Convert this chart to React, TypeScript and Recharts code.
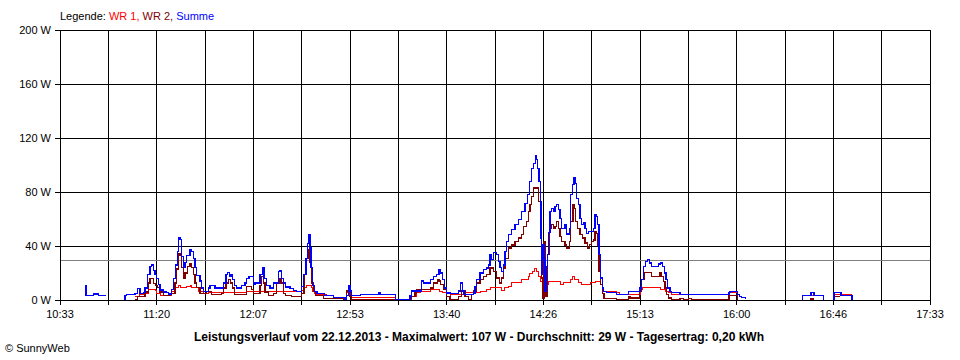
import React from "react";
import { LineChart, Line, XAxis, YAxis, CartesianGrid, ReferenceLine } from "recharts";

// time in minutes after 10:33, power in W
const tickLabels = ["10:33", "", "11:20", "", "12:07", "", "12:53", "", "13:40", "", "14:26", "", "15:13", "", "16:00", "", "16:46", "", "17:33"];
const yTicks = [0, 40, 80, 120, 160, 200];
const average = 29;

const wr1: [number, number | null][] = [
  [36.2, 2.5], [38.6, 4], [41.1, 5], [42.6, 7.5], [45.9, 7.4], [46.7, 5], [48.3, 3.4], [53.1, 3.4], [53.9, 6.4], [55.5, 9],
  [57.2, 11], [58.0, 9.6], [59.6, 9], [61.2, 10], [62.8, 11], [63.6, 9.6], [65.2, 9], [66.8, 6.4], [69.2, 5], [71.6, 5.5],
  [90.1, 6], [116.7, 7], [117.5, 9], [118.8, 11], [120.7, 11], [121.2, 9], [122.0, 6.4], [122.8, 5], [124.0, 4], [128.8, 3],
  [132.0, 2], [136.8, 1.5], [138.4, 5.2], [140.8, 1.5], [161.0, 1.5], [161.8, 0.5], [168.2, 0.5], [169.8, 2.7], [172.2, 5.2],
  [173.8, 6.6], [178.7, 7.6], [183.0, 6.6], [184.6, 5.2], [186.7, 2.7], [188.3, 4], [194.3, 4], [195.1, 5.2], [200.4, 5.2],
  [202.8, 6.6], [206.0, 7.6], [207.6, 8.9], [212.4, 8.9], [213.2, 7], [214.8, 8.9], [216.5, 10.1], [218.1, 12.6], [221.3, 12.6],
  [222.9, 15], [224.5, 15], [226.1, 17.5], [226.6, 20], [227.9, 21.2], [229.3, 23.7], [230.1, 21.2], [230.9, 17.5], [231.8, 13.8],
  [233.0, 6.2], [234.2, 11.4], [235.8, 13.8], [239.8, 13.8], [241.4, 11.4], [243.0, 12.6], [245.8, 12.6], [246.4, 15], [247.5, 17.5],
  [248.6, 15], [250.3, 12.6], [251.9, 11.4], [254.3, 11.4], [255.9, 12.6], [258.3, 13.8], [259.9, 13.8], [260.7, 11.4], [261.9, 6.2],
  [262.3, 6.4], [267.9, 6.4], [268.7, 5.2], [270.3, 4], [279.2, 4], [280.0, 7.6], [281.2, 8.9], [288.9, 8.9], [289.7, 7.6],
  [292.1, 6.4], [293.7, 5.2], [295.3, 4], [322.5, 4], [323.0, 5.6], [326.0, 5.6], [327.0, 4], [328.0, null],
  [358.5, 3], [368.4, 3], [368.5, null], [373.6, 4], [382.3, 3], [382.4, null],
];

const wr2: [number, number | null][] = [
  [36.2, 0], [37.4, 2.5], [41.1, 6], [42.6, 12.5], [43.5, 16], [44.7, 16], [45.1, 12], [46.2, 11], [47.2, 9.4], [48.3, 6],
  [49.9, 3.4], [53.1, 5], [54.7, 5], [55.5, 12.5], [56.4, 23], [57.2, 34.6], [58.0, 33], [58.8, 24], [59.6, 16], [60.4, 20],
  [61.7, 25], [62.8, 26.7], [63.6, 24], [64.4, 19], [65.2, 12.6], [66.0, 9.4], [67.6, 5], [70.8, 6.4], [72.4, 6.4], [73.2, 4],
  [77.3, 4], [78.1, 5], [78.9, 9], [80.2, 12.6], [81.3, 15], [82.4, 12.6], [83.2, 9], [84.2, 4], [89.3, 4], [90.1, 10],
  [91.8, 10], [92.6, 8], [93.4, 5], [95.8, 5], [96.6, 11], [97.4, 17.5], [98.2, 12.6], [99.0, 6], [100.6, 3.4], [103.0, 5],
  [104.6, 12.6], [105.8, 16], [106.7, 12.6], [107.9, 5], [108.7, 3.4], [111.9, 2.5], [116.0, 2.5], [116.7, 5], [117.8, 18.7],
  [119.1, 31], [119.9, 37], [120.7, 28], [121.5, 12.6], [122.4, 6.4], [123.2, 3.4], [127.2, 1.2], [136.0, 1.2], [136.8, 0],
  [137.6, 1.5], [138.4, 6.6], [139.2, 5.2], [140.0, 2.7], [140.8, 0.5], [169.0, 0.5], [169.8, 2.7], [171.4, 5.2], [172.2, 7.6],
  [177.1, 7.6], [178.7, 8.8], [180.3, 12.5], [182.2, 15], [183.0, 14], [183.8, 11.3], [185.1, 7.6], [186.7, 2.7], [188.3, 0.5],
  [192.4, 2.7], [193.8, 6.6], [195.5, 2.7], [197.2, 0.5], [198.8, 4], [199.6, 6.6], [201.2, 12.5], [202.8, 15], [204.4, 17.5],
  [206.0, 18.7], [207.6, 23.7], [209.2, 21.2], [210.8, 16.3], [212.1, 12.6], [213.2, 16.3], [214.0, 23.7], [214.8, 31],
  [216.5, 38.5], [218.1, 40.8], [219.7, 43.4], [221.3, 45.9], [222.9, 48.4], [223.7, 54.5], [225.3, 58.2], [226.1, 65.5],
  [226.9, 70.5], [227.7, 76.7], [228.5, 82.9], [230.1, 82.9], [230.9, 73], [231.8, 53.2], [232.6, 16.3], [233.0, 1.2],
  [233.7, 43.4], [234.2, 11.4], [234.6, 2.5], [235.3, 33.6], [236.3, 53.2], [237.1, 55.7], [238.2, 53.2], [239.0, 54.5],
  [239.8, 58.2], [240.6, 53.2], [241.4, 47], [242.2, 43.4], [243.8, 40.8], [244.6, 38.5], [245.8, 43.4], [246.6, 58.2],
  [247.6, 70.5], [248.2, 68], [248.8, 58.2], [249.8, 53.2], [251.1, 48.4], [252.4, 45.9], [253.5, 42.2], [254.6, 38.5],
  [255.6, 41], [256.7, 43.4], [257.5, 44.5], [258.3, 50.8], [259.1, 49.5], [259.6, 40.8], [260.2, 21.2], [261.0, 11.4],
  [261.9, 5], [262.6, 1], [267.9, 1], [268.7, 0.2], [274.4, 2.7], [275.2, 1.5], [278.4, 1.5], [279.7, 6.4], [280.8, 15],
  [281.9, 20.5], [285.0, 20.5], [285.7, 17.6], [288.9, 17.6], [289.7, 20], [290.5, 17.6], [291.3, 13.8], [292.1, 8.9],
  [292.9, 4], [293.7, 1.5], [295.3, 0.2], [299.3, 1.2], [300.9, 0.2], [303.5, 1.2], [305.0, 0.2], [322.5, 0.5], [323.0, 3.3],
  [326.0, 3.3], [327.0, 0], [327.1, null], [362.0, 0], [362.5, 1], [363.5, 0], [363.6, null], [373.6, 2.5], [376.6, 2.5], [376.7, null],
];

const summe: [number, number | null][] = [
  [12.1, 10.6], [12.6, 3.4], [16.1, 4.5], [18.5, 3.4], [22.2, 3.4], [22.3, null],
  [30.9, 0], [31.4, 3.4], [32.2, 4], [34.6, 4], [36.2, 5], [37.4, 8.6], [38.6, 5], [40.3, 5.5], [41.1, 9], [42.2, 18.7],
  [43.5, 24.7], [44.3, 26], [45.1, 22], [45.9, 18.7], [46.7, 16], [47.5, 11.3], [48.3, 7.5], [49.9, 6], [51.5, 5.5], [52.3, 4.5],
  [53.9, 8], [54.7, 16], [55.9, 26], [56.7, 36], [57.2, 46], [58.0, 45], [58.8, 32], [59.6, 24], [60.4, 28], [61.2, 33],
  [62.8, 37], [63.6, 36], [64.4, 31], [65.2, 24], [66.0, 18], [67.6, 14], [68.4, 9], [69.2, 6.4], [70.8, 6.4], [71.6, 9],
  [72.4, 11], [74.0, 11], [74.8, 9], [78.1, 9], [78.9, 12.6], [80.2, 18.7], [81.0, 20.5], [81.8, 17.5], [82.6, 18.7], [83.4, 15],
  [84.2, 11], [85.3, 9], [86.9, 9], [87.7, 11], [89.3, 12.6], [90.1, 16], [91.3, 17.5], [92.6, 17.5], [93.4, 11.6], [94.2, 12.6],
  [95.8, 12.6], [96.6, 18.7], [97.7, 23.6], [98.5, 16], [99.8, 11], [101.4, 9], [103.0, 12.6], [104.6, 12.6], [105.4, 21],
  [106.2, 22], [107.0, 16], [107.9, 12.6], [108.7, 9.6], [110.3, 9.6], [111.1, 8.4], [112.7, 7], [114.3, 6.4], [115.9, 6.4],
  [116.7, 10], [117.5, 18.7], [118.8, 31], [119.6, 42], [119.9, 48.6], [120.7, 38.5], [121.2, 24], [122.0, 11], [122.8, 6.4],
  [124.0, 4.7], [127.2, 4.7], [127.8, 3.4], [131.2, 3.4], [132.0, 2], [136.8, 2], [137.6, 0.5], [138.4, 3.4], [139.2, 10.6],
  [140.0, 6.6], [140.8, 3.4], [144.9, 3.9], [151.3, 3.9], [153.7, 5.2], [154.5, 4], [161.0, 4], [161.8, 0.5], [168.2, 0.5],
  [169.0, 3], [169.8, 6.6], [173.8, 6.6], [174.6, 14], [175.5, 12.5], [177.1, 12.5], [178.7, 15], [180.3, 17.5], [181.9, 18.7],
  [183.0, 22.5], [183.8, 20], [184.6, 15], [185.6, 9], [186.7, 5.2], [188.3, 4.7], [191.6, 4.7], [192.4, 6.6], [193.5, 12.5],
  [194.3, 6.6], [195.1, 4], [198.8, 4], [199.6, 5.2], [200.4, 10], [201.2, 15], [202.8, 20], [204.4, 22.5], [206.0, 23.7],
  [207.0, 26], [207.6, 33.6], [208.4, 30], [209.2, 35], [210.8, 33.6], [211.6, 28.6], [212.4, 24], [213.2, 21.2], [214.0, 26],
  [214.8, 36], [215.7, 43.4], [216.5, 48.4], [218.1, 52], [219.7, 55.7], [221.3, 59.4], [222.9, 65.5], [224.5, 71.7],
  [225.6, 77.9], [226.6, 87.8], [227.7, 97.6], [228.5, 101.3], [229.4, 107], [230.0, 104], [230.5, 97.6], [231.3, 87.8],
  [231.8, 73], [232.2, 45.9], [232.6, 18.7], [233.0, 40.8], [233.7, 30], [234.2, 6.2], [234.6, 25], [235.3, 33.6], [235.8, 50],
  [236.6, 65.5], [237.4, 68], [238.2, 65.5], [239.0, 69.2], [239.8, 70.5], [240.6, 66.8], [241.4, 60.6], [242.2, 53.2],
  [243.8, 55.7], [244.6, 48.8], [245.8, 53.2], [246.6, 77.9], [247.4, 85.3], [248.2, 90.3], [248.8, 86.5], [249.5, 75.4],
  [250.3, 70.5], [251.1, 60.6], [251.9, 55.7], [252.7, 57], [253.5, 53.2], [254.3, 49.5], [255.1, 50.8], [257.5, 53.2],
  [258.3, 63], [259.1, 61.8], [259.6, 55.7], [260.2, 33.6], [261.0, 16.3], [261.9, 8.9], [262.3, 6.4], [263.9, 5.7],
  [267.9, 5.7], [268.7, 4], [273.0, 4], [274.4, 6.4], [279.2, 6.4], [280.0, 8.9], [280.8, 15], [281.6, 25], [282.8, 28.6],
  [283.7, 30], [284.5, 27.4], [285.7, 25], [288.1, 25], [288.9, 26.6], [290.0, 27.4], [291.0, 25], [291.8, 20], [292.6, 15],
  [293.4, 8.9], [294.5, 6.4], [295.3, 5.7], [298.5, 5.7], [299.3, 4], [322.5, 4], [323.0, 5.6], [323.5, 6.4], [326.0, 6.4],
  [327.0, 4], [328.0, 2.5], [329.0, 1.6], [331.0, 0.5], [332.0, null],
  [358.1, 0], [358.5, 3.5], [362.0, 3.5], [362.5, 5.5], [363.5, 5.5], [364.0, 3.5], [368.4, 3.5], [368.5, 0], [368.6, null],
  [373.2, 0], [373.6, 5.6], [376.6, 5.6], [377.0, 3.5], [382.3, 3.5], [382.4, 0], [382.5, null],
];

const toRows = (pts: [number, number | null][]) => pts.map(([t, w]) => ({ t, w }));
const xTicks = tickLabels.map((_, i) => (i * 420) / 18);

const FONT = "'Liberation Sans', Arial, sans-serif";
const tickStyle = { fontSize: 11, fill: "#000", fontFamily: FONT };

export default function App() {
  return (
    <div style={{ position: "absolute", left: 0, top: 0, width: 960, height: 360, background: "#fff", fontFamily: FONT }}>
      <div style={{ position: "absolute", left: 60, top: 10, fontSize: 11, lineHeight: "13px", whiteSpace: "pre" }}>
        <span style={{ color: "#000" }}>Legende: </span>
        <span style={{ color: "#ff0000" }}>WR 1, </span>
        <span style={{ color: "#800000" }}>WR 2, </span>
        <span style={{ color: "#0000ff" }}>Summe</span>
      </div>
      <LineChart width={960} height={360} margin={{ top: 30, right: 30, left: 0, bottom: 0 }} style={{ shapeRendering: "crispEdges" }}>
        <CartesianGrid stroke="#000" strokeOpacity={1} />
        <XAxis
          dataKey="t"
          type="number"
          domain={[0, 420]}
          ticks={xTicks}
          interval={0}
          allowDataOverflow
          height={60}
          tickSize={5}
          tickMargin={5}
          stroke="#000"
          tick={tickStyle}
          tickFormatter={(v: number) => tickLabels[xTicks.indexOf(v)] ?? ""}
        />
        <YAxis
          type="number"
          domain={[0, 200]}
          ticks={yTicks}
          interval={0}
          width={60}
          tickSize={5}
          tickMargin={4}
          stroke="#000"
          tick={tickStyle}
          tickFormatter={(v: number) => `${v} W`}
        />
        <ReferenceLine y={average} stroke="#808080" strokeWidth={1} />
        <Line data={toRows(wr1)} dataKey="w" type="stepAfter" stroke="#ff0000" strokeWidth={1} dot={false} activeDot={false} connectNulls={false} isAnimationActive={false} />
        <Line data={toRows(wr2)} dataKey="w" type="stepAfter" stroke="#800000" strokeWidth={1.3} dot={false} activeDot={false} connectNulls={false} isAnimationActive={false} />
        <Line data={toRows(summe)} dataKey="w" type="stepAfter" stroke="#0000ff" strokeWidth={1.3} dot={false} activeDot={false} connectNulls={false} isAnimationActive={false} />
      </LineChart>
      <div style={{ position: "absolute", left: 0, top: 330, width: 958, textAlign: "center", fontSize: 12, fontWeight: "bold", lineHeight: "14px" }}>
        Leistungsverlauf vom 22.12.2013 - Maximalwert: 107 W - Durchschnitt: 29 W - Tagesertrag: 0,20 kWh
      </div>
      <div style={{ position: "absolute", left: 5, top: 342, fontSize: 11, lineHeight: "13px" }}>© SunnyWeb</div>
    </div>
  );
}
